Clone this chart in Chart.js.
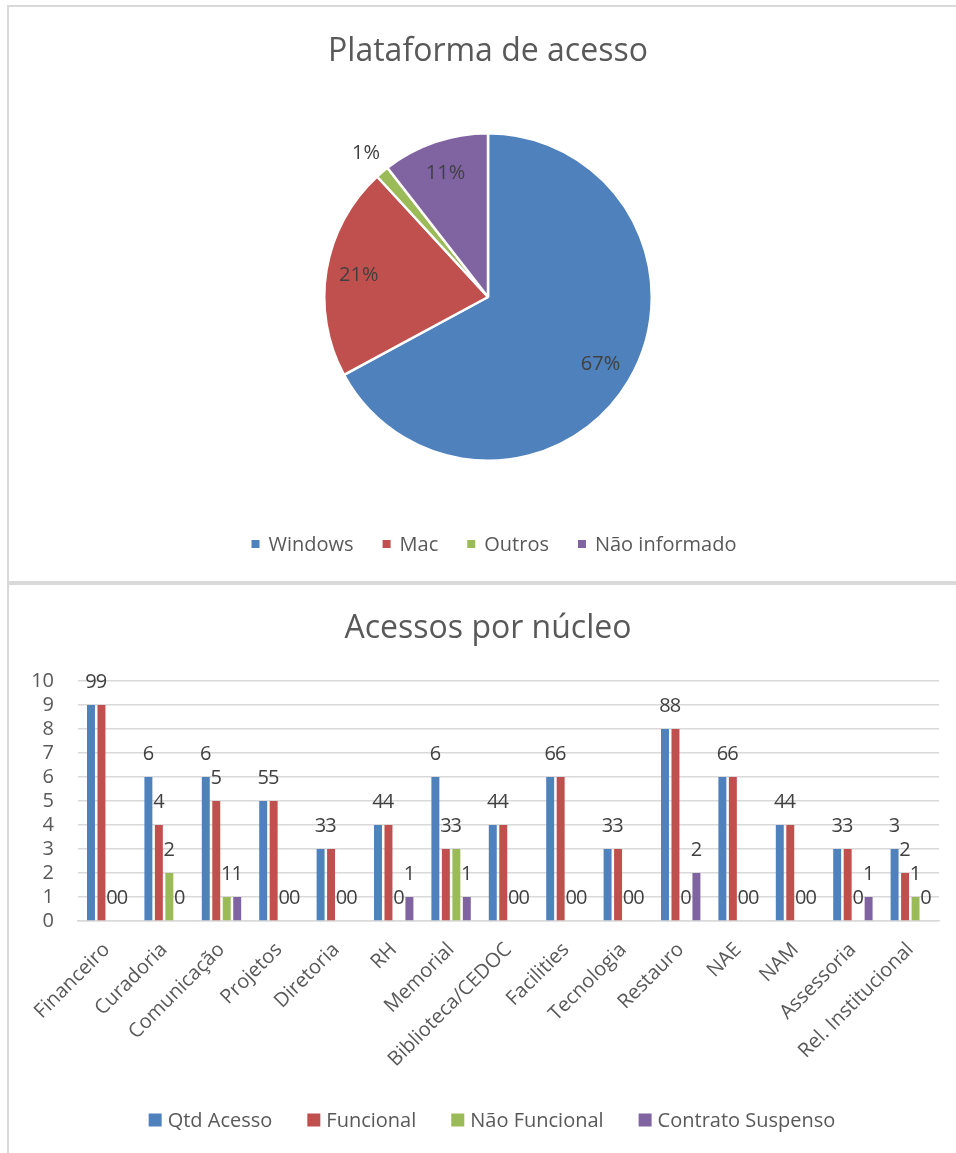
<!DOCTYPE html>
<html lang="pt">
<head>
<meta charset="UTF-8">
<title>Plataforma de acesso / Acessos por núcleo</title>
<script src="https://cdn.jsdelivr.net/npm/chart.js"></script>
<style>
  body{margin:0;background:#fff;width:956px;height:1153px;overflow:hidden;position:relative;font-family:'Open Sans',sans-serif;}
  .box{position:absolute;left:7px;width:960px;border-left:2px solid #d9d9d9;border-top:2px solid #d9d9d9;}
  #box1{top:5px;height:574px;border-bottom:2px solid #d9d9d9;}
  #box2{top:583px;height:580px;}
  .box canvas{position:absolute;left:0;top:0;}
</style>
</head>
<body>
<div class="box" id="box1"><canvas id="pie" width="947" height="574" style="width:947px;height:574px"></canvas></div>
<div class="box" id="box2"><canvas id="bar" width="947" height="568" style="width:947px;height:568px"></canvas></div>
<script>
// --- data ---
const platforms = ["Windows", "Mac", "Outros", "Não informado"];
const platformCounts = [51, 16, 1, 8];
const platformColors = ["#4f81bd", "#c0504d", "#9bbb59", "#8064a2"];

const nucleos = ["Financeiro","Curadoria","Comunicação","Projetos","Diretoria","RH","Memorial",
  "Biblioteca/CEDOC","Facilities","Tecnologia","Restauro","NAE","NAM","Assessoria","Rel. Institucional"];
const qtdAcesso      = [9,6,6,5,3,4,6,4,6,3,8,6,4,3,3];
const funcional      = [9,4,5,5,3,4,3,4,6,3,8,6,4,3,2];
const naoFuncional   = [0,2,1,0,0,0,3,0,0,0,0,0,0,0,1];
const contratoSusp   = [0,0,1,0,0,1,1,0,0,0,2,0,0,1,0];
const seriesNames = ["Qtd Acesso","Funcional","Não Funcional","Contrato Suspenso"];
const yTicks = [0,1,2,3,4,5,6,7,8,9,10];

const FONT = "'Open Sans', sans-serif";
const TXT = "#595959", LBL = "#404040";

// title + legend drawn by hand so spacing matches the original
function drawTitle(ctx, text, x, y, size){
  ctx.save();
  ctx.font = size + "px " + FONT; ctx.fillStyle = TXT;
  ctx.textAlign = "center"; ctx.textBaseline = "middle";
  ctx.fillText(text, x, y);
  ctx.restore();
}
function drawLegend(ctx, labels, colors, cx, cy, o){
  ctx.save();
  ctx.font = o.size + "px " + FONT; ctx.textBaseline = "middle"; ctx.textAlign = "left";
  const widths = labels.map(l => ctx.measureText(l).width);
  let total = 0;
  widths.forEach((w,i) => { total += o.box + o.gap + w + (i < widths.length-1 ? o.space : 0); });
  let x = cx - total/2;
  labels.forEach((l,i) => {
    ctx.fillStyle = colors[i];
    ctx.fillRect(x, cy - o.box/2, o.box, o.box);
    x += o.box + o.gap;
    ctx.fillStyle = TXT;
    ctx.fillText(l, x, cy + 1);
    x += widths[i] + o.space;
  });
  ctx.restore();
}

// --- pie ---
const pieDecor = {
  id: "pieDecor",
  afterDraw(chart){
    const ctx = chart.ctx;
    drawTitle(ctx, "Plataforma de acesso", 479, 45, 32);
    drawLegend(ctx, platforms, platformColors, 485, 537, {size:20, box:8, gap:9, space:29});
    const total = platformCounts.reduce((a,b)=>a+b,0);
    const meta = chart.getDatasetMeta(0);
    ctx.save();
    ctx.font = "20px " + FONT; ctx.fillStyle = LBL;
    ctx.textAlign = "center"; ctx.textBaseline = "middle";
    meta.data.forEach((arc, i) => {
      const pct = Math.round(platformCounts[i] / total * 100);
      const a = (arc.startAngle + arc.endAngle) / 2;
      const r = pct < 3 ? arc.outerRadius + 25 : arc.outerRadius * 0.8;
      ctx.fillText(pct + "%", arc.x + Math.cos(a) * r, arc.y + Math.sin(a) * r);
    });
    ctx.restore();
  }
};

new Chart(document.getElementById("pie"), {
  type: "pie",
  data: { labels: platforms, datasets: [{ data: platformCounts, backgroundColor: platformColors,
    borderColor: "#fff", borderWidth: 2.5 }] },
  options: {
    responsive: false, animation: false, devicePixelRatio: 1,
    layout: { padding: { left: 314, right: 303, top: 125, bottom: 119 } },
    plugins: { legend: { display: false }, title: { display: false }, tooltip: { enabled: false } }
  },
  plugins: [pieDecor]
});

// --- bars ---
const barDecor = {
  id: "barDecor",
  afterDraw(chart){
    const ctx = chart.ctx;
    drawTitle(ctx, "Acessos por núcleo", 479, 44, 32);
    drawLegend(ctx, seriesNames, platformColors, 483, 535, {size:20, box:13, gap:6, space:35});
    ctx.save();
    ctx.font = "20px " + FONT; ctx.fillStyle = LBL;
    ctx.textAlign = "center"; ctx.textBaseline = "alphabetic";
    chart.data.datasets.forEach((ds, di) => {
      chart.getDatasetMeta(di).data.forEach((bar, i) => {
        ctx.fillText(String(ds.data[i]), bar.x, bar.y - 17);
      });
    });
    ctx.restore();
  }
};

const barSeries = [qtdAcesso, funcional, naoFuncional, contratoSusp];
new Chart(document.getElementById("bar"), {
  type: "bar",
  data: {
    labels: nucleos,
    datasets: barSeries.map((d, i) => ({ label: seriesNames[i], data: d, backgroundColor: platformColors[i],
      categoryPercentage: 0.73, barPercentage: 0.76 }))
  },
  options: {
    responsive: false, animation: false, devicePixelRatio: 1,
    layout: { padding: { left: 0, right: 17, top: 96, bottom: 0 } },
    plugins: { legend: { display: false }, title: { display: false }, tooltip: { enabled: false } },
    scales: {
      x: {
        grid: { display: false, drawTicks: false },
        border: { color: "#d9d9d9", width: 1.5 },
        ticks: { color: TXT, font: { family: FONT, size: 20 }, minRotation: 45, maxRotation: 45,
          autoSkip: false, padding: 17 },
        afterFit: s => { s.height = 232; }
      },
      y: {
        min: 0, max: 10,
        afterBuildTicks: s => { s.ticks = yTicks.map(v => ({ value: v })); },
        grid: { color: "#d9d9d9", lineWidth: 1.5, drawTicks: false },
        border: { display: false },
        ticks: { color: TXT, font: { family: FONT, size: 20 }, padding: 24, autoSkip: false, stepSize: 1 },
        afterFit: s => { s.width = 69; }
      }
    }
  },
  plugins: [barDecor]
});
</script>
</body>
</html>
